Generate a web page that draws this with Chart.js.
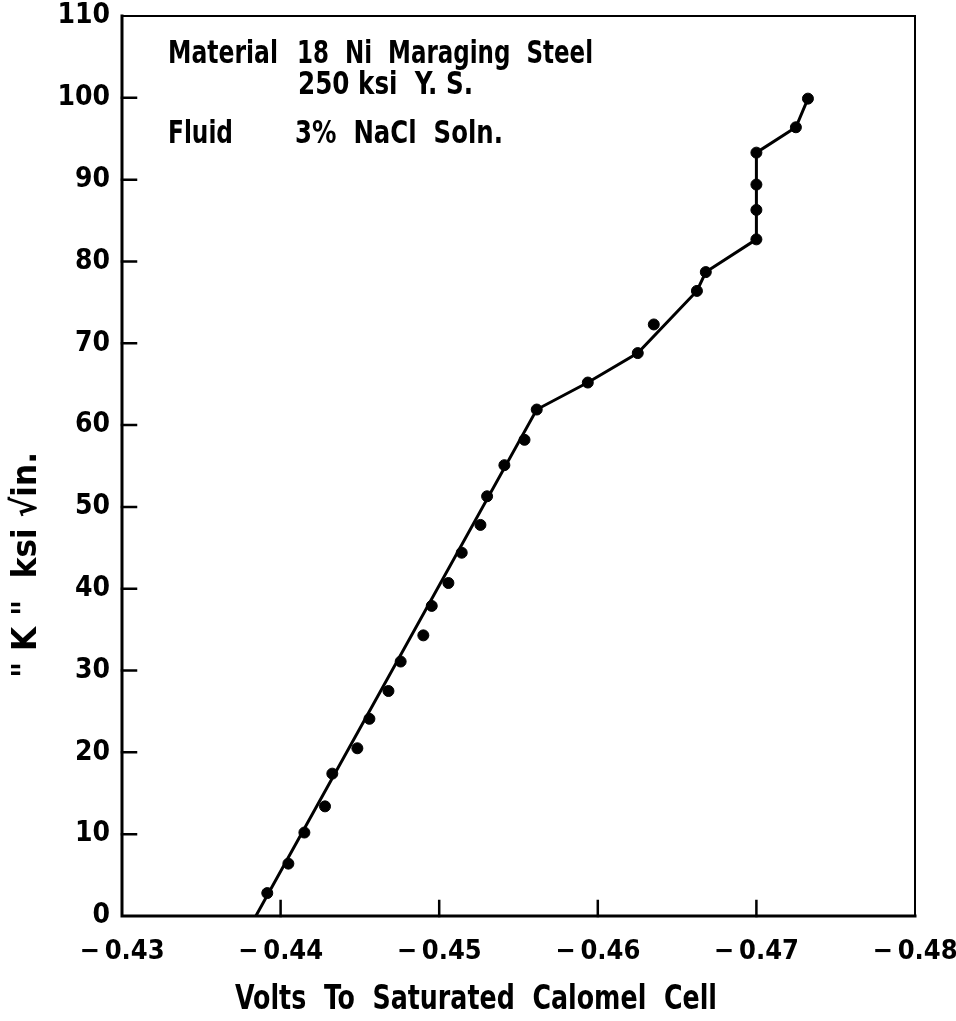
<!DOCTYPE html>
<html>
<head>
<meta charset="utf-8">
<script src="https://cdn.jsdelivr.net/npm/chart.js@4/dist/chart.umd.min.js"></script>
<style>
  html, body { margin: 0; padding: 0; background: #fff; }
  #wrap { width: 956px; height: 1021px; position: relative; }
</style>
</head>
<body>
<div id="wrap"><canvas id="chart" width="956" height="1021"></canvas></div>
<script>
// measured points: volts vs K (ksi sqrt in.)
const pointVolts = [
  -0.43916, -0.44049, -0.44150, -0.44280, -0.44326, -0.44484, -0.44560,
  -0.44680, -0.44757, -0.44900, -0.44953, -0.45058, -0.45142, -0.45260,
  -0.45302, -0.45411, -0.45538, -0.45615, -0.45937, -0.46252, -0.46353,
  -0.46625, -0.46681, -0.47000, -0.47000, -0.47000, -0.47000, -0.47249, -0.47325
]
const pointK = [
  2.8, 6.4, 10.2, 13.4, 17.4, 20.5, 24.1,
  27.5, 31.1, 34.3, 37.9, 40.7, 44.4, 47.8,
  51.3, 55.1, 58.2, 61.9, 65.2, 68.8, 72.3,
  76.4, 78.7, 82.7, 86.3, 89.4, 93.3, 96.4, 99.9
]

// hand drawn curve through the data
const curveVolts = [-0.43844, -0.45615, -0.45937, -0.46252, -0.46625, -0.46681, -0.47000, -0.47000, -0.47249, -0.47325]
const curveK     = [0, 61.9, 65.2, 68.8, 76.4, 78.7, 82.7, 93.3, 96.4, 99.9]

const xTicks = [-0.43, -0.44, -0.45, -0.46, -0.47, -0.48]
const yTicks = [0, 10, 20, 30, 40, 50, 60, 70, 80, 90, 100, 110]

// text block in the upper left: [text, left, middle, width]
const notes = [
  ['Material', 168, 55, 110],
  ['18  Ni  Maraging  Steel', 297, 55, 296],
  ['250 ksi  Y. S.', 298, 86, 175],
  ['Fluid', 168, 135, 65],
  ['3%  NaCl  Soln.', 295, 135, 208],
]

const FONT = "'Liberation Sans Narrow', 'DejaVu Sans Condensed', sans-serif"
const INK = '#000'

// squeeze text horizontally so it covers the given width
function fitText(ctx, text, x, y, width) {
  const w = ctx.measureText(text).width
  ctx.save()
  ctx.translate(x, y)
  ctx.scale(width / w, 1)
  ctx.fillText(text, 0, 0)
  ctx.restore()
}

const frame = {
  id: 'frame',
  afterDraw(chart) {
    const { ctx, chartArea: a, scales } = chart
    ctx.save()
    ctx.strokeStyle = INK
    ctx.lineCap = 'square'

    // heavy left / bottom axes, lighter top / right
    ctx.lineWidth = 3
    ctx.beginPath()
    ctx.moveTo(a.left, a.top)
    ctx.lineTo(a.left, a.bottom)
    ctx.lineTo(a.right, a.bottom)
    ctx.stroke()
    ctx.lineWidth = 2
    ctx.beginPath()
    ctx.moveTo(a.left, a.top)
    ctx.lineTo(a.right, a.top)
    ctx.lineTo(a.right, a.bottom)
    ctx.stroke()

    // inward tick marks
    ctx.lineWidth = 2.5
    ctx.beginPath()
    yTicks.slice(1, -1).forEach(v => {
      const py = scales.y.getPixelForValue(v)
      ctx.moveTo(a.left, py)
      ctx.lineTo(a.left + 14, py)
    })
    xTicks.slice(1, -1).forEach(v => {
      const px = scales.x.getPixelForValue(v)
      ctx.moveTo(px, a.bottom)
      ctx.lineTo(px, a.bottom - 15)
    })
    ctx.stroke()

    ctx.fillStyle = INK
    ctx.font = `bold 32px ${FONT}`
    ctx.textBaseline = 'middle'
    ctx.textAlign = 'left'
    notes.forEach(([t, x, y, w]) => fitText(ctx, t, x, y, w))

    // axis titles
    ctx.font = `bold 34px ${FONT}`
    fitText(ctx, 'Volts  To  Saturated  Calomel  Cell', 235, 1000, 482)
    ctx.translate(27, 678)
    ctx.rotate(-Math.PI / 2)
    fitText(ctx, '" K "  ksi √in.', 0, 0, 226)
    ctx.restore()
  }
}

// drop the extra room Chart.js keeps for overhanging tick labels
const noOverhang = (s, size) => {
  s.paddingLeft = s.paddingRight = s.paddingTop = s.paddingBottom = 0
  if (s.isHorizontal()) s.height = size
  else s.width = size
}

new Chart(document.getElementById('chart'), {
  type: 'scatter',
  data: {
    datasets: [
      {
        data: pointVolts.map((v, i) => ({ x: v, y: pointK[i] })),
        backgroundColor: INK,
        borderColor: INK,
        pointRadius: 5.5,
        showLine: false,
      },
      {
        data: curveVolts.map((v, i) => ({ x: v, y: curveK[i] })),
        borderColor: INK,
        borderWidth: 3,
        pointRadius: 0,
        showLine: true,
        tension: 0,
      },
    ],
  },
  options: {
    responsive: false,
    animation: false,
    layout: { padding: { top: 16, right: 41, left: 0, bottom: 0 } },
    plugins: {
      legend: { display: false },
      tooltip: { enabled: false },
    },
    scales: {
      x: {
        type: 'linear',
        reverse: true,
        min: -0.48,
        max: -0.43,
        afterFit: (s) => noOverhang(s, 105),
        afterBuildTicks: (s) => { s.ticks = xTicks.map(v => ({ value: v })) },
        grid: { display: false },
        border: { display: false },
        ticks: {
          color: INK,
          padding: 12,
          maxRotation: 0,
          font: { family: FONT, size: 27, weight: 'bold' },
          callback: (v) => '−\u2009' + Math.abs(v).toFixed(2),
        },
      },
      y: {
        type: 'linear',
        min: 0,
        max: 110,
        afterFit: (s) => noOverhang(s, 122),
        afterBuildTicks: (s) => { s.ticks = yTicks.map(v => ({ value: v })) },
        grid: { display: false },
        border: { display: false },
        ticks: {
          color: INK,
          padding: 4,
          font: { family: FONT, size: 28, weight: 'bold' },
        },
      },
    },
  },
  plugins: [frame],
})
</script>
</body>
</html>
